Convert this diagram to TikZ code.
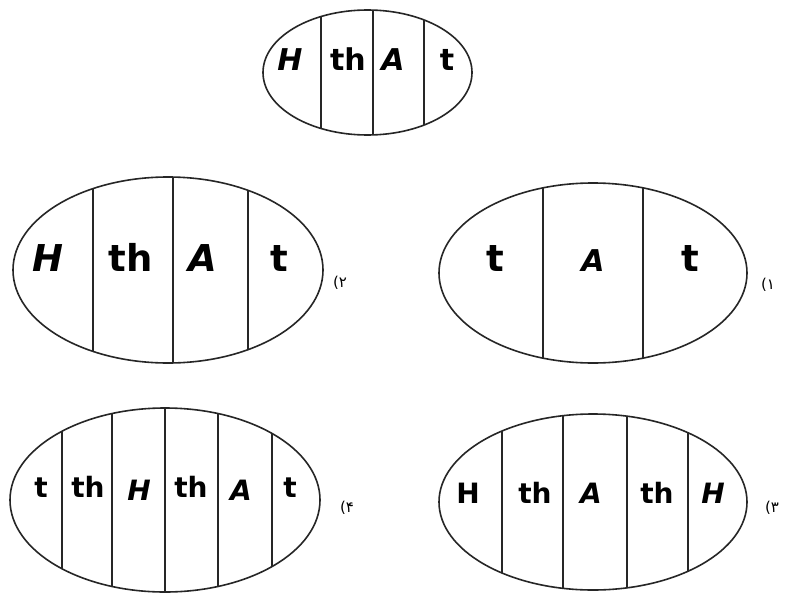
\documentclass[tikz,border=0pt]{standalone}
\usepackage{fontspec}
\setmainfont{DejaVu Sans}
\newfontfamily\arabicfont[Script=Arabic]{DejaVu Sans}
\tikzset{
  oval/.style={line width=1.6pt, draw=black!85},
  divider/.style={line width=1.4pt, draw=black!85},
  cellbig/.style={inner sep=0pt, text height=0.72em, text depth=0pt, font=\fontsize{37}{37}\selectfont\bfseries},
  cellmid/.style={inner sep=0pt, text height=0.72em, text depth=0pt, font=\fontsize{30}{30}\selectfont\bfseries},
  cellsmall/.style={inner sep=0pt, text height=0.72em, text depth=0pt, font=\fontsize{28}{28}\selectfont\bfseries},
  tag/.style={inner sep=0pt, font=\fontsize{15}{15}\selectfont}
}
\newcommand{\tagnum}[1]{({\arabicfont #1}}
\begin{document}
\begin{tikzpicture}[x=1pt, y=-1pt]
\useasboundingbox[fill=white] (0,0) rectangle (789,594);

% ---- top oval: H th A t ----
\begin{scope}
  \clip (367.5,72.5) ellipse [x radius=104.5, y radius=62.5];
  \foreach \xx in {321,373,424} \draw[divider] (\xx,0) -- (\xx,140);
\end{scope}
\draw[oval] (367.5,72.5) ellipse [x radius=104.5, y radius=62.5];
\node[cellmid] (t1) at (290,67) {\itshape H};
\node[cellmid] (t2) at (348,67) {th};
\node[cellmid] (t3) at (393,67) {\itshape A};
\node[cellmid] (t4) at (447,67) {t};

% ---- oval 2: H th A t ----
\begin{scope}
  \clip (168,270) ellipse [x radius=155, y radius=93];
  \foreach \xx in {93,173,248} \draw[divider] (\xx,170) -- (\xx,370);
\end{scope}
\draw[oval] (168,270) ellipse [x radius=155, y radius=93];
\node[cellbig] (b1) at (48,268) {\itshape H};
\node[cellbig] (b2) at (131,268) {th};
\node[cellbig] (b3) at (203,268) {\itshape A};
\node[cellbig] (b4) at (279,268) {t};
\node[tag] (l2) at (340,283) {\tagnum{۲}};

% ---- oval 1: t A t ----
\begin{scope}
  \clip (593,273) ellipse [x radius=154, y radius=90];
  \foreach \xx in {543,643} \draw[divider] (\xx,170) -- (\xx,370);
\end{scope}
\draw[oval] (593,273) ellipse [x radius=154, y radius=90];
\node[cellbig] (a1) at (495,268) {t};
\node[cellmid] (a2) at (593,268) {\itshape A};
\node[cellbig] (a3) at (690,268) {t};
\node[tag] (l1) at (768,285) {\tagnum{۱}};

% ---- oval 4: t th H th A t ----
\begin{scope}
  \clip (165,500) ellipse [x radius=155, y radius=92];
  \foreach \xx in {62,112,165,218,272} \draw[divider] (\xx,400) -- (\xx,600);
\end{scope}
\draw[oval] (165,500) ellipse [x radius=155, y radius=92];
\node[cellsmall] (d1) at (41,494) {t};
\node[cellsmall] (d2) at (88,494) {th};
\node[cellsmall] (d3) at (139,497) {\itshape H};
\node[cellsmall] (d4) at (191,494) {th};
\node[cellsmall] (d5) at (241,497) {\itshape A};
\node[cellsmall] (d6) at (290,494) {t};
\node[tag] (l4) at (347,508) {\tagnum{۴}};

% ---- oval 3: H th A th H ----
\begin{scope}
  \clip (593,502) ellipse [x radius=154, y radius=88];
  \foreach \xx in {502,563,627,688} \draw[divider] (\xx,400) -- (\xx,600);
\end{scope}
\draw[oval] (593,502) ellipse [x radius=154, y radius=88];
\node[cellsmall] (c1) at (468,500) {H};
\node[cellsmall] (c2) at (535,500) {th};
\node[cellsmall] (c3) at (591,500) {\itshape A};
\node[cellsmall] (c4) at (657,500) {th};
\node[cellsmall] (c5) at (713,500) {\itshape H};
\node[tag] (l3) at (772,508) {\tagnum{۳}};
\end{tikzpicture}
\end{document}
